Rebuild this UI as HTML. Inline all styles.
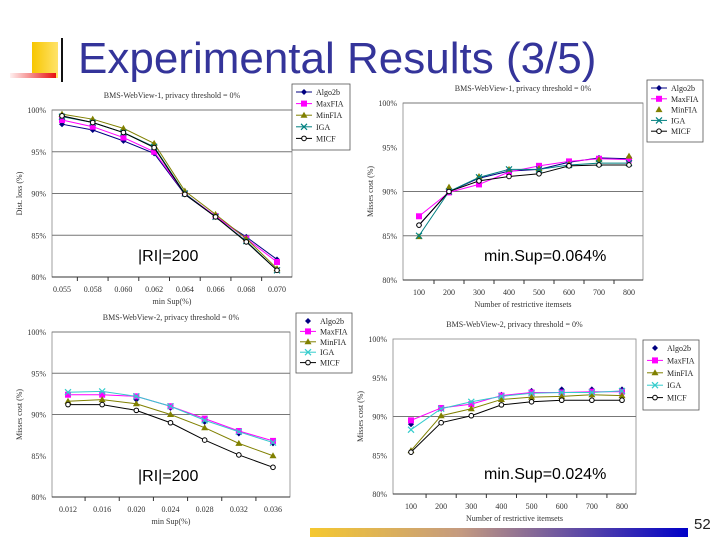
<!DOCTYPE html>
<html><head><meta charset="utf-8"><style>
body{margin:0;width:720px;height:540px;overflow:hidden;background:#fff;font-family:"Liberation Serif",serif;position:relative}
.t{position:absolute;white-space:nowrap}
</style></head><body>
<div class="t" style="left:32px;top:42px;width:26px;height:36px;background:linear-gradient(90deg,#f7c600,#ffe36a)"></div>
<div class="t" style="left:10px;top:73px;width:46px;height:5px;background:linear-gradient(90deg,#fff0f0,#e81010)"></div>
<div class="t" style="left:61px;top:38px;width:2px;height:44px;background:#111"></div>
<div class="t" style="left:78px;top:34px;font:44px 'Liberation Sans',sans-serif;color:#34349a">Experimental Results (3/5)</div>
<div class="t" style="left:310px;top:528px;width:378px;height:9px;background:linear-gradient(90deg,#f5c830,#c49a80 40%,#0000c8)"></div>
<div class="t" style="left:694px;top:516px;font:15px 'Liberation Sans',sans-serif;color:#222">52</div>
<svg id="s" width="720" height="540" style="position:absolute;left:0;top:0"></svg>
<div class="t" style="left:138px;top:248px;font:16px 'Liberation Sans',sans-serif">|RI|=200</div>
<div class="t" style="left:484px;top:248px;font:16px 'Liberation Sans',sans-serif">min.Sup=0.064%</div>
<div class="t" style="left:138px;top:468px;font:16px 'Liberation Sans',sans-serif">|RI|=200</div>
<div class="t" style="left:484px;top:466px;font:16px 'Liberation Sans',sans-serif">min.Sup=0.024%</div>
<script>
const seriesNames=["Algo2b","MaxFIA","MinFIA","IGA","MICF"];
const cats1=["0.055","0.058","0.060","0.062","0.064","0.066","0.068","0.070"];
const c1Algo2b=[98.3,97.6,96.3,94.8,89.9,87.2,84.8,82.1];
const c1MaxFIA=[98.8,98.0,96.7,95.0,90.0,87.3,84.6,81.8];
const c1MinFIA=[99.5,98.9,97.8,96.0,90.3,87.5,84.6,81.0];
const c1IGA=[99.2,98.5,97.3,95.6,90.0,87.2,84.3,80.8];
const c1MICF=[99.3,98.5,97.3,95.5,89.9,87.2,84.2,80.8];
const cats2=["100","200","300","400","500","600","700","800"];
const c2Algo2b=[86.2,90.0,91.5,92.3,92.5,93.3,93.8,93.7];
const c2MaxFIA=[87.2,89.9,90.8,92.2,92.9,93.4,93.7,93.6];
const c2MinFIA=[84.9,90.5,91.7,92.5,92.6,93.1,93.6,94.0];
const c2IGA=[85.0,90.0,91.6,92.5,92.5,93.0,93.2,93.2];
const c2MICF=[86.2,90.0,91.2,91.7,92.0,92.9,93.0,93.0];
const cats3=["0.012","0.016","0.020","0.024","0.028","0.032","0.036"];
const c3Algo2b=[92.4,92.4,91.8,90.8,89.1,87.7,86.5];
const c3MaxFIA=[92.4,92.4,92.2,91.0,89.5,88.0,86.8];
const c3MinFIA=[91.6,91.8,91.3,90.0,88.4,86.5,85.0];
const c3IGA=[92.7,92.8,92.2,91.0,89.3,87.9,86.6];
const c3MICF=[91.2,91.2,90.5,89.0,86.9,85.1,83.6];
const cats4=["100","200","300","400","500","600","700","800"];
const c4Algo2b=[89.0,91.0,91.7,92.8,93.3,93.5,93.5,93.5];
const c4MaxFIA=[89.5,91.1,91.6,92.7,93.1,93.1,93.2,93.2];
const c4MinFIA=[85.6,90.1,91.0,92.2,92.5,92.6,92.8,92.7];
const c4IGA=[88.3,91.0,91.9,92.6,93.0,93.1,93.1,93.3];
const c4MICF=[85.4,89.2,90.1,91.5,91.9,92.1,92.1,92.1];
const yTicks=[80,85,90,95,100];

const svg=document.getElementById('s');
const NS='http://www.w3.org/2000/svg';
function mk(t,a,p){const e=document.createElementNS(NS,t);for(const k in a)e.setAttribute(k,a[k]);(p||svg).appendChild(e);return e;}
const cols=["#000080","#ff00ff","#808000","#008080","#000000"];
const cols4=["#000080","#ff00ff","#808000","#33cccc","#000000"];
function marker(g,k,x,y,c){
  if(k==0)mk('polygon',{points:`${x},${y-3} ${x+3},${y} ${x},${y+3} ${x-3},${y}`,fill:c},g);
  else if(k==1)mk('rect',{x:x-3,y:y-3,width:6,height:6,fill:c},g);
  else if(k==2)mk('polygon',{points:`${x},${y-3.5} ${x+3.5},${y+2.5} ${x-3.5},${y+2.5}`,fill:c},g);
  else if(k==3){mk('path',{d:`M${x-3},${y-3}L${x+3},${y+3}M${x+3},${y-3}L${x-3},${y+3}`,stroke:c,'stroke-width':1.2},g);}
  else mk('circle',{cx:x,cy:y,r:2.3,fill:'#fff',stroke:c,'stroke-width':1},g);
}
function chart(o){
  const g=mk('g',{});
  
  
  const {x0,x1,yTop,yBot,cx0,cx1,cats,data,colors}=o;
  const ys=v=>yTop+(100-v)/20*(yBot-yTop);
  const xs=i=>cx0+i*(cx1-cx0)/(cats.length-1);
  mk('rect',{x:x0,y:yTop,width:x1-x0,height:yBot-yTop,fill:'#fff',stroke:'#888','stroke-width':0.8},g);
  yTicks.forEach(t=>{
    const y=ys(t);
    if(o.grid.includes(t))mk('line',{x1:x0,x2:x1,y1:y,y2:y,stroke:'#777','stroke-width':1},g);
    const tl=mk('text',{x:x0-6,y:y+3,'font-size':8,'text-anchor':'end',fill:'#333'},g);tl.textContent=t+'%';
  });
  mk('line',{x1:x0,x2:x1,y1:yBot,y2:yBot,stroke:'#333'},g);
  cats.forEach((c,i)=>{
    const t=mk('text',{x:xs(i),y:yBot+15,'font-size':8,'text-anchor':'middle',fill:'#333'},g);t.textContent=c;
    const tx=xs(i)+(cx1-cx0)/(cats.length-1)/2;
    if(i<cats.length-1)mk('line',{x1:tx,x2:tx,y1:yBot,y2:yBot+4,stroke:'#333'},g);
  });
  const tt=mk('text',{x:(x0+x1)/2,y:yTop-12,'font-size':8,'text-anchor':'middle',fill:'#333'},g);tt.textContent=o.title;
  const xl=mk('text',{x:(x0+x1)/2,y:yBot+27,'font-size':8,'text-anchor':'middle',fill:'#333'},g);xl.textContent=o.xlabel;
  const yl=mk('text',{x:0,y:0,'font-size':8,'text-anchor':'middle',fill:'#333',transform:`translate(${x0-30},${(yTop+yBot)/2}) rotate(-90)`},g);yl.textContent=o.ylabel;
  data.forEach((d,k)=>{
    const sg=mk('g',{},g);
    
    
    if(!(o.noline&&o.noline.includes(k)))mk('polyline',{points:d.map((v,i)=>xs(i)+','+ys(v)).join(' '),fill:'none',stroke:colors[k],'stroke-width':1},sg);
    d.forEach((v,i)=>marker(sg,k,xs(i),ys(v),colors[k]));
  });
  const L=o.leg;
  const lg=mk('g',{},g);
  
  
  mk('rect',{x:L.x,y:L.y,width:L.w,height:L.h,fill:'#fff',stroke:'#555','stroke-width':0.8},lg);
  seriesNames.forEach((n,k)=>{
    const yy=L.y+8+k*(L.h-8)/5;
    if(!(o.noline&&o.noline.includes(k)))mk('line',{x1:L.x+4,x2:L.x+20,y1:yy,y2:yy,stroke:colors[k]},lg);
    marker(lg,k,L.x+12,yy,colors[k]);
    const t=mk('text',{x:L.x+24,y:yy+3,'font-size':8,fill:'#222'},lg);t.textContent=n;
  });
}
chart({name:'chart-rewrite-vs-minsup-1',x0:52,x1:292,yTop:110,yBot:277,cx0:62,cx1:277,cats:cats1,data:[c1Algo2b,c1MaxFIA,c1MinFIA,c1IGA,c1MICF],colors:cols,grid:[80,85,90,95,100],title:'BMS-WebView-1, privacy threshold = 0%',xlabel:'min Sup(%)',ylabel:'Dist. loss (%)',leg:{x:292,y:84,w:58,h:66}});
chart({name:'chart-restrictive-1',x0:403,x1:643,yTop:103,yBot:280,cx0:419,cx1:629,cats:cats2,data:[c2Algo2b,c2MaxFIA,c2MinFIA,c2IGA,c2MICF],colors:cols,grid:[85,90,100],noline:[2],title:'BMS-WebView-1, privacy threshold = 0%',xlabel:'Number of restrictive itemsets',ylabel:'Misses cost (%)',leg:{x:647,y:80,w:56,h:62}});
chart({name:'chart-minsup-2',x0:52,x1:290,yTop:332,yBot:497,cx0:68,cx1:273,cats:cats3,data:[c3Algo2b,c3MaxFIA,c3MinFIA,c3IGA,c3MICF],colors:cols4,grid:[90,95,100],noline:[0],title:'BMS-WebView-2, privacy threshold = 0%',xlabel:'min Sup(%)',ylabel:'Misses cost (%)',leg:{x:296,y:313,w:56,h:60}});
chart({name:'chart-restrictive-2',x0:393,x1:636,yTop:339,yBot:494,cx0:411,cx1:622,cats:cats4,data:[c4Algo2b,c4MaxFIA,c4MinFIA,c4IGA,c4MICF],colors:cols4,grid:[90],noline:[0],title:'BMS-WebView-2, privacy threshold = 0%',xlabel:'Number of restrictive itemsets',ylabel:'Misses cost (%)',leg:{x:643,y:340,w:56,h:70}});
</script>
</body></html>
